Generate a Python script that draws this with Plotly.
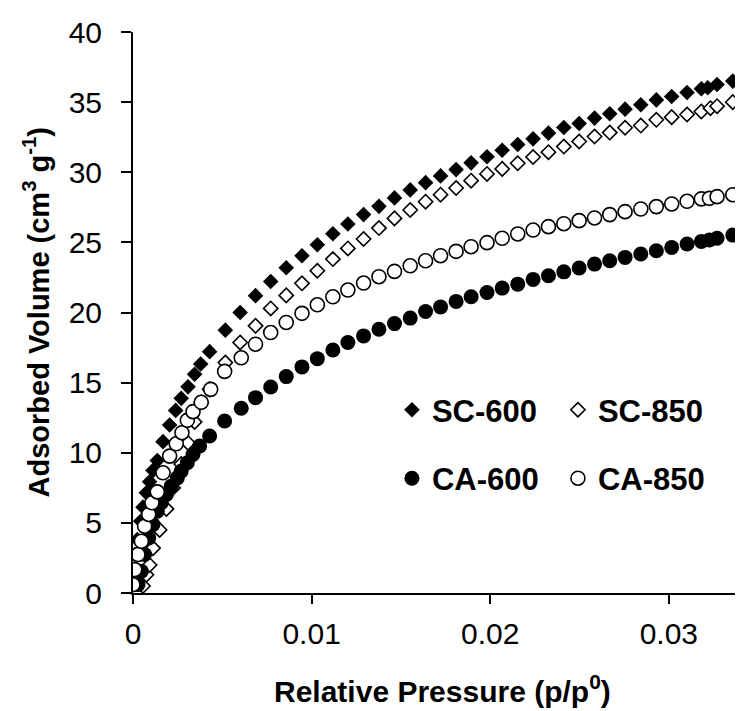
import plotly.graph_objects as go

sc600_p = [0.0, 0.0001, 0.00024, 0.00043, 0.00056, 0.00075, 0.00093, 0.00112, 0.00136, 0.00168,
           0.00205, 0.00239, 0.0027, 0.00308, 0.00345, 0.00379, 0.00429, 0.00517, 0.006,
           0.00686, 0.00771, 0.00858, 0.00946, 0.01032, 0.01119, 0.01203, 0.01291, 0.01377, 0.01464,
           0.01552, 0.01638, 0.01722, 0.01809, 0.01893, 0.01982, 0.02067, 0.02154, 0.0224, 0.02326,
           0.02412, 0.02498, 0.02584, 0.02669, 0.02755, 0.02843, 0.0293, 0.03016, 0.03102,
           0.03182, 0.03218, 0.0327, 0.03358, 0.034]
sc600_v = [1.55, 2.74, 3.81, 5.12, 6.12, 7.14, 7.93, 8.74, 9.45, 10.79,
           11.98, 13.02, 13.88, 14.7, 15.6, 16.33, 17.21, 18.74, 20.0,
           21.2, 22.21, 23.19, 24.05, 24.83, 25.62, 26.31, 26.98, 27.57, 28.17,
           28.74, 29.26, 29.74, 30.19, 30.67, 31.1, 31.57, 31.98, 32.38, 32.79,
           33.19, 33.48, 33.86, 34.17, 34.5, 34.81, 35.16, 35.4, 35.69,
           35.95, 36.02, 36.26, 36.5, 36.59]

sc850_p = [0.0002, 0.00056, 0.00075, 0.00093, 0.00112, 0.00149, 0.00187, 0.00224, 0.0027, 0.00308,
           0.00345, 0.00382, 0.00429, 0.00517, 0.006,
           0.00686, 0.00771, 0.00858, 0.00946, 0.01032, 0.01119, 0.01203, 0.01291, 0.01377, 0.01464,
           0.01552, 0.01638, 0.01722, 0.01809, 0.01893, 0.01982, 0.02067, 0.02154, 0.0224, 0.02326,
           0.02412, 0.02498, 0.02584, 0.02669, 0.02755, 0.02843, 0.0293, 0.03016, 0.03102,
           0.03182, 0.03233, 0.0327, 0.03358, 0.03414]
sc850_v = [0.1, 0.5, 1.3, 2.0, 3.2, 4.5, 6.0, 7.5, 9.2, 10.7,
           12.2, 13.6, 14.52, 16.43, 17.86,
           19.05, 20.29, 21.22, 22.08, 22.98, 23.81, 24.57, 25.24, 26.02, 26.71,
           27.31, 27.9, 28.4, 28.88, 29.4, 29.88, 30.24, 30.64, 31.09, 31.43,
           31.83, 32.19, 32.55, 32.83, 33.17, 33.33, 33.74, 33.93, 34.12,
           34.33, 34.57, 34.71, 35.0, 35.17]

ca600_p = [0.00028, 0.00047, 0.00065, 0.00088, 0.00112, 0.00136, 0.00158, 0.00187, 0.00214, 0.00248,
           0.0027, 0.00304, 0.00336, 0.00373, 0.00429, 0.00513, 0.00606,
           0.00686, 0.00771, 0.00858, 0.00946, 0.01032, 0.01119, 0.01203, 0.01291, 0.01377, 0.01464,
           0.01552, 0.01638, 0.01722, 0.01809, 0.01893, 0.01982, 0.02067, 0.02154, 0.0224, 0.02326,
           0.02412, 0.02498, 0.02584, 0.02669, 0.02755, 0.02843, 0.0293, 0.03016, 0.03102,
           0.03182, 0.03227, 0.0327, 0.03358]
ca600_v = [0.6, 1.55, 2.74, 3.93, 4.88, 5.83, 6.43, 7.02, 7.62, 8.21,
           8.69, 9.29, 9.88, 10.48, 11.19, 12.26, 13.17,
           13.93, 14.69, 15.43, 16.12, 16.71, 17.33, 17.86, 18.33, 18.81, 19.21,
           19.6, 20.07, 20.4, 20.79, 21.12, 21.43, 21.74, 22.02, 22.36, 22.62,
           22.9, 23.17, 23.45, 23.69, 23.93, 24.17, 24.4, 24.64, 24.88,
           25.07, 25.17, 25.29, 25.52]

ca850_p = [0.0, 0.0001, 0.00028, 0.00047, 0.00065, 0.00088, 0.00106, 0.00136, 0.00168, 0.00205,
           0.00242, 0.00274, 0.00304, 0.00336, 0.00382, 0.00435, 0.00513, 0.00606,
           0.00686, 0.00771, 0.00858, 0.00946, 0.01032, 0.01119, 0.01203, 0.01291, 0.01377, 0.01464,
           0.01552, 0.01638, 0.01722, 0.01809, 0.01893, 0.01982, 0.02067, 0.02154, 0.0224, 0.02326,
           0.02412, 0.02498, 0.02584, 0.02669, 0.02755, 0.02843, 0.0293, 0.03016, 0.03102,
           0.03182, 0.03227, 0.0327, 0.03358, 0.03414]
ca850_v = [0.6, 1.67, 2.74, 3.69, 4.76, 5.6, 6.43, 7.21, 8.57, 9.76,
           10.64, 11.43, 12.31, 12.93, 13.6, 14.52, 15.8, 16.77,
           17.74, 18.57, 19.29, 19.94, 20.55, 21.12, 21.6, 22.1, 22.55, 22.93,
           23.33, 23.69, 24.05, 24.36, 24.69, 24.98, 25.29, 25.6, 25.88, 26.12,
           26.33, 26.55, 26.74, 26.98, 27.19, 27.38, 27.55, 27.74, 27.93,
           28.1, 28.14, 28.26, 28.4, 28.5]

x_ticks = [0, 0.01, 0.02, 0.03]
x_labels = ["0", "0.01", "0.02", "0.03"]
y_ticks = [0, 5, 10, 15, 20, 25, 30, 35, 40]

FONT = "Arial, Liberation Sans, sans-serif"

fig = go.Figure()

# filled / open markers, drawn in the same order as the original
series = [
    ("SC-600", sc600_p, sc600_v, "diamond", "legend"),
    ("SC-850", sc850_p, sc850_v, "diamond-open", "legend"),
    ("CA-600", ca600_p, ca600_v, "circle", "legend2"),
    ("CA-850", ca850_p, ca850_v, "circle-open", "legend2"),
]
for name, p, v, sym, leg in series:
    is_diamond = sym.startswith("diamond")
    if sym.endswith("open"):
        marker = dict(symbol=sym.replace("-open", ""), size=11 if is_diamond else 14,
                      color="white", line=dict(color="black", width=1.6))
    else:
        marker = dict(symbol=sym, size=12 if is_diamond else 15, color="black",
                      line=dict(width=0))
    fig.add_trace(go.Scatter(x=p, y=v, mode="markers", name=name, marker=marker,
                             legend=leg))

legend_style = dict(orientation="h", bgcolor="rgba(0,0,0,0)", borderwidth=0,
                    font=dict(family=FONT, size=31, color="black", weight="bold"),
                    entrywidth=121, itemwidth=30, xanchor="left", yanchor="middle",
                    tracegroupgap=0)

fig.update_layout(
    width=743, height=711,
    margin=dict(l=125, r=0, t=24, b=126),
    plot_bgcolor="white", paper_bgcolor="white",
    font=dict(family=FONT, color="black"),
    legend=dict(x=0.419, y=0.326, **legend_style),
    legend2=dict(x=0.419, y=0.204, **legend_style),
    xaxis=dict(range=[0, 0.0346], tickvals=x_ticks, ticktext=x_labels,
               showline=True, linecolor="black", linewidth=2,
               ticks="outside", ticklen=9, tickwidth=1.5, tickcolor="black",
               tickfont=dict(size=30), ticklabelstandoff=4,
               showgrid=False, zeroline=False),
    yaxis=dict(range=[0, 40], tickvals=y_ticks,
               showline=True, linecolor="black", linewidth=2,
               ticks="outside", ticklen=10, tickwidth=1.5, tickcolor="black",
               tickfont=dict(size=30), ticklabelstandoff=13,
               showgrid=False, zeroline=False),
    annotations=[
        dict(text="Relative Pressure (p/p<sup>0</sup>)", xref="paper", yref="paper",
             x=0.5, y=-0.209, xanchor="center", yanchor="bottom", showarrow=False,
             font=dict(size=30, family=FONT, weight="bold")),
        dict(text="Adsorbed Volume (cm<sup>3</sup> g<sup>-1</sup>)", xref="paper", yref="paper",
             x=-0.157, y=0.5, xanchor="center", yanchor="middle", textangle=-90,
             showarrow=False, font=dict(size=29, family=FONT, weight="bold")),
    ],
)

fig.write_html("out.html")
